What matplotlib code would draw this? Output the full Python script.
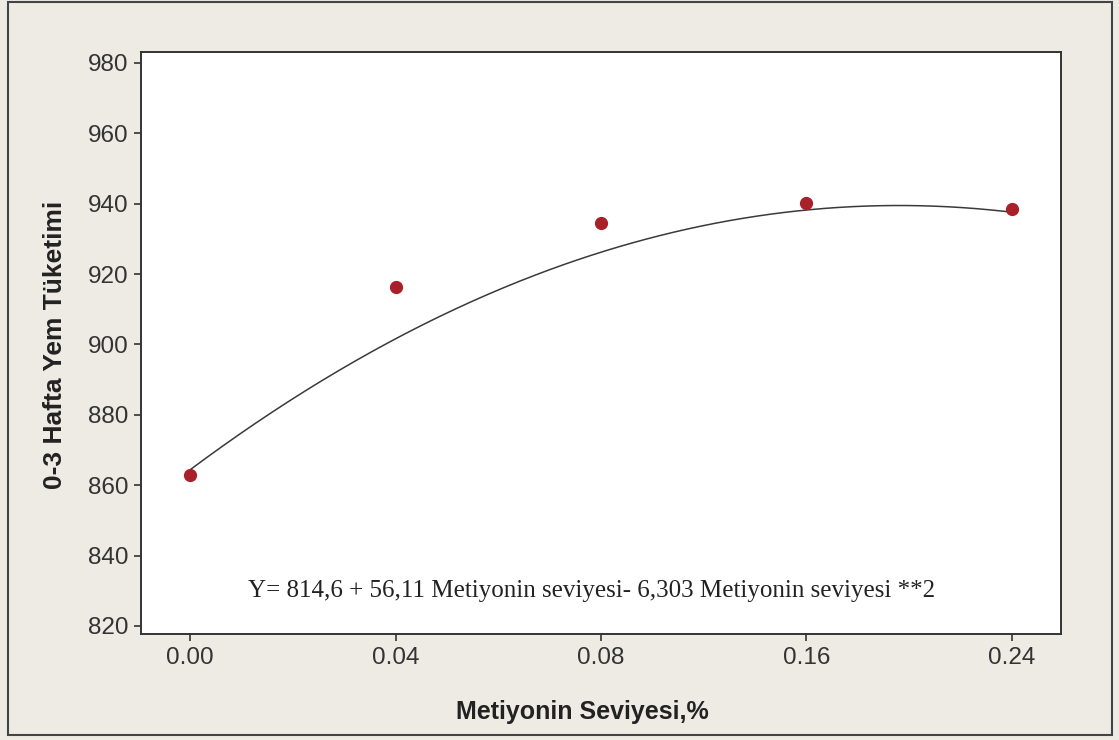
import numpy as np
import matplotlib
matplotlib.use("Agg")
import matplotlib.pyplot as plt
from matplotlib.patches import Rectangle

# Data
categories = ["0.00", "0.04", "0.08", "0.16", "0.24"]
values = [862.9, 916.3, 934.6, 940.1, 938.4]
fit_coefs = [814.6, 56.11, -6.303]  # Y = b0 + b1*x + b2*x^2 (x = level index 1..5)
y_ticks = [820, 840, 860, 880, 900, 920, 940, 960, 980]
equation = "Y= 814,6 + 56,11 Metiyonin seviyesi- 6,303 Metiyonin seviyesi **2"
x_label = "Metiyonin Seviyesi,%"
y_label = "0-3 Hafta Yem Tüketimi"

bg = "#EDEBE4"
fig = plt.figure(figsize=(11.19, 7.40), dpi=100, facecolor=bg)
ax = fig.add_axes([141/1119, 1-634/740, (1061-141)/1119, (634-52)/740])
ax.set_facecolor("white")

x = np.arange(1, len(categories) + 1)
xf = np.linspace(x[0], x[-1], 300)
yf = np.polynomial.polynomial.polyval(xf, fit_coefs)
ax.plot(xf, yf, color="#3a3a3a", lw=1.1, zorder=2)
ax.plot(x, values, "o", color="#A8202A", markersize=8.5, zorder=3)

ax.set_xlim(0.76, 5.24)
ax.set_ylim(817.7, 983.1)
ax.set_xticks(x)
ax.set_xticklabels(categories)
ax.set_yticks(y_ticks)

for s in ax.spines.values():
    s.set_color("#333333")
    s.set_linewidth(1.4)
ax.tick_params(axis="both", direction="out", length=5, width=1.2, color="#333333",
               labelsize=17.5, labelcolor="#333333", pad=4)
for lab in ax.get_xticklabels() + ax.get_yticklabels():
    lab.set_family("Liberation Sans")

ax.set_xlabel(x_label, fontsize=18, fontweight="bold", family="Liberation Sans",
              color="#222222", va="center")
ax.set_ylabel(y_label, fontsize=19, fontweight="bold", family="Liberation Sans",
              color="#222222", va="center")
ax.xaxis.set_label_coords((582-141)/920, (634-712)/582)
ax.yaxis.set_label_coords((55-141)/920, (634-345)/582)

ax.text(2.955, 829.9, equation, ha="center", va="center", fontsize=18,
        family="Liberation Serif", color="#222222")

fig.patches.append(Rectangle((8/1119, 1-735/740), 1104/1119, 733/740,
                             transform=fig.transFigure, fill=False,
                             edgecolor="#444444", linewidth=1.5))

fig.savefig("out.png", dpi=100, facecolor=bg)
